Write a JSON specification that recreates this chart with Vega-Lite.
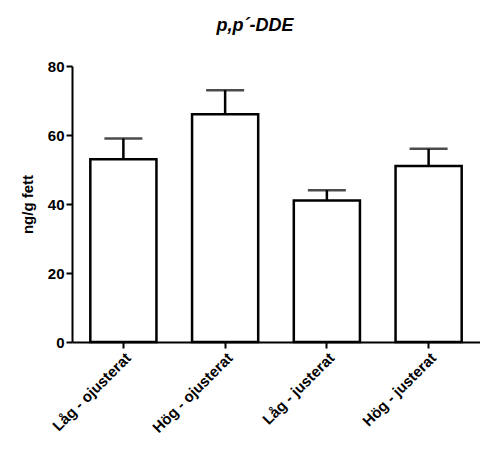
{
"$schema":"https://vega.github.io/schema/vega-lite/v6.json",
"autosize":{"type":"none"},
"padding":{"left":72,"top":66,"right":0,"bottom":127},
"width":408,"height":276,
"config":{"font":"Liberation Sans","view":{"stroke":null}},
"title":{"text":"p,p´-DDE","font":"Liberation Sans","fontSize":18,"fontWeight":"bold","fontStyle":"italic","color":"black","anchor":"middle","offset":24,"dx":-21},
"data":{"values":[
{"g":"Låg - ojusterat","v":53,"e":59},
{"g":"Hög - ojusterat","v":66,"e":73},
{"g":"Låg - justerat","v":41,"e":44},
{"g":"Hög - justerat","v":51,"e":56}]},
"encoding":{"x":{"field":"g","type":"nominal","sort":null,"scale":{"paddingInner":0.35,"paddingOuter":0.18},
"axis":{"title":null,"labelAngle":-45,"labelAlign":"right","labelBaseline":"top","labelFont":"Liberation Sans","labelFontSize":15,"labelFontWeight":"bold","labelColor":"black","domainColor":"black","domainWidth":2,"tickColor":"black","tickWidth":2,"tickSize":6,"labelPadding":2}}},
"layer":[
{"mark":{"type":"rule","color":"black","strokeWidth":2.5},"encoding":{"y":{"field":"v","type":"quantitative"},"y2":{"field":"e"}}},
{"mark":{"type":"tick","color":"black","thickness":2.5,"size":38},"encoding":{"y":{"field":"e","type":"quantitative"}}},
{"mark":{"type":"bar","fill":"white","stroke":"black","strokeWidth":2.5},"encoding":{"y":{"field":"v","type":"quantitative","scale":{"domain":[0,80]},
"axis":{"title":"ng/g fett","titleFont":"Liberation Sans","titleFontSize":15,"titleFontWeight":"bold","titleColor":"black","titlePadding":12,"values":[0,20,40,60,80],"grid":false,"labelFont":"Liberation Sans","labelFontSize":15,"labelFontWeight":"bold","labelColor":"black","domainColor":"black","domainWidth":2,"tickColor":"black","tickWidth":2,"tickSize":6}}}}
]}
